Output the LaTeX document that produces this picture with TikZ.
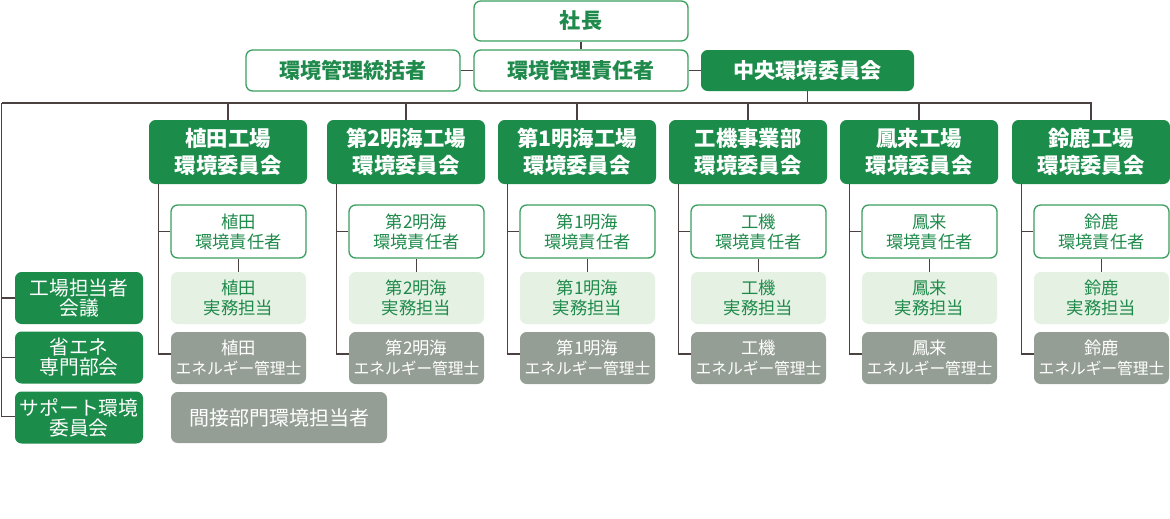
\documentclass[tikz,border=0pt]{standalone}
\usepackage{fontspec}
\setmainfont{Noto Sans CJK JP}
\usetikzlibrary{calc}
\definecolor{dgreen}{HTML}{1B8C4A}
\definecolor{lgreen}{HTML}{3A9E5F}
\definecolor{tgreen}{HTML}{1F8A4B}
\definecolor{lfill}{HTML}{E5F2E3}
\definecolor{gfill}{HTML}{959E95}
\definecolor{conncol}{HTML}{4B4141}
\tikzset{
  box/.style={rounded corners=5pt, inner sep=0pt, align=center},
  outbox/.style={box, draw=lgreen, line width=1pt, fill=white, text=tgreen},
  solidbox/.style={box, fill=dgreen, text=white},
  lightbox/.style={box, fill=lfill, text=tgreen},
  greybox/.style={box, fill=gfill, text=white},
  topsize/.style={minimum width={214*0.75pt}, minimum height={40*0.75pt}, font=\fontsize{15.8}{18}\selectfont\bfseries},
  comsize/.style={minimum width={158*0.75pt}, minimum height={64*0.75pt}, font=\fontsize{16}{20.3}\selectfont\bfseries},
  subsize/.style={minimum width={135*0.75pt}, minimum height={52*0.75pt}, font=\fontsize{13}{15}\selectfont},
  leftsize/.style={minimum width={128*0.75pt}, minimum height={52*0.75pt}, font=\fontsize{14.8}{15}\selectfont},
  conn/.style={draw=conncol, line width=1pt}
}
\begin{document}
\begin{tikzpicture}[x=0.75pt,y=-0.75pt]
\useasboundingbox (0,0) rectangle (1170,518);
% top
\node[outbox, topsize] (pres) at (581,21) {社長};
\node[outbox, topsize, minimum height={41*0.75pt}] (gen) at (353,70.5) {環境管理統括者};
\node[outbox, topsize, minimum height={41*0.75pt}] (mgr) at (581,70.5) {環境管理責任者};
\node[solidbox, topsize, minimum height={41*0.75pt}, minimum width={213*0.75pt}] (central) at (807.5,70.5) {中央環境委員会};
\draw[conn] (pres.south) -- (mgr.north);
\draw[conn] (gen.east) -- (mgr.west);
\draw[conn] (mgr.east) -- (central.west);
% columns
\foreach \i/\cx/\ctext/\stext in {1/228/植田工場/植田, 2/406/第2明海工場/第2明海, 3/577/第1明海工場/第1明海, 4/748/工機事業部/工機, 5/919/鳳来工場/鳳来, 6/1091/鈴鹿工場/鈴鹿}{
  \node[solidbox, comsize] (c\i) at (\cx,152) {\ctext\\環境委員会};
  \node[outbox, subsize, minimum height={53*0.75pt}] (r\i) at (\cx+10.5,231.5) {\stext\\環境責任者};
  \node[lightbox, subsize] (j\i) at (\cx+10.5,298) {\stext\\実務担当};
  \node[greybox, subsize] (e\i) at (\cx+10.5,358) {\stext\\{\fontsize{11.8}{15}\selectfont エネルギー管理士}};
  \draw[conn] ([xshift=7.5pt]c\i.south west) |- (r\i.west);
  \draw[conn] ([xshift=7.5pt]c\i.south west) |- ([yshift=3pt]e\i.west);
  \draw[conn] (r\i.south) -- (j\i.north);
}
% left
\node[solidbox, leftsize] (s1) at (79,298) {工場担当者\\会議};
\node[solidbox, leftsize] (s2) at (79,357.5) {省エネ\\専門部会};
\node[solidbox, leftsize] (s3) at (79,417.5) {サポート環境\\委員会};
\node[greybox, minimum width={216*0.75pt}, minimum height={51*0.75pt}, font=\fontsize{15}{16}\selectfont] (ind) at (279,417.5) {間接部門環境担当者};
% bus
\coordinate (busL) at (1.5,103);
\draw[conn] (central.south) -- (central.south |- busL);
\draw[conn] (busL) -- (busL -| c6.north) -- (c6.north);
\foreach \i in {1,...,5}{ \draw[conn] (c\i.north) -- (c\i.north |- busL); }
\draw[conn] (busL) |- ([yshift=1pt]s3.west);
\draw[conn] (busL |- s1.west) -- (s1.west);
\draw[conn] (busL |- s2.west) -- (s2.west);
\end{tikzpicture}
\end{document}
